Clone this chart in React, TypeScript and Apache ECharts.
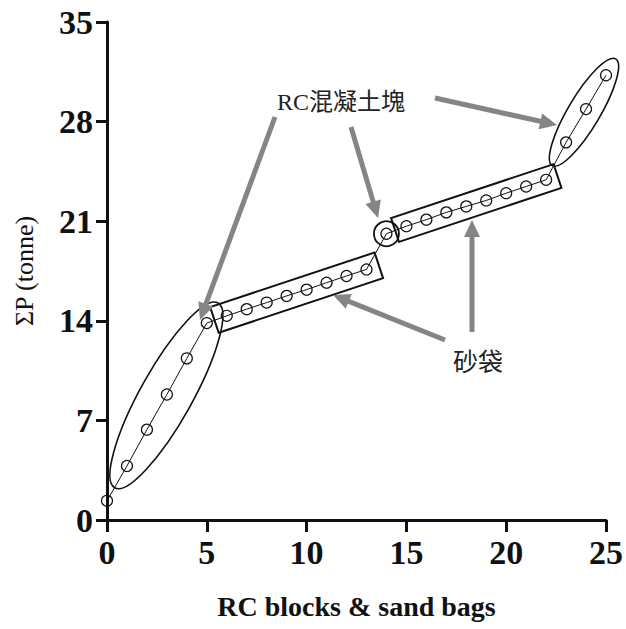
import React, { useEffect, useRef } from "react";
import * as echarts from "echarts";

const xValues = [0, 1, 2, 3, 4, 5, 6, 7, 8, 9, 10, 11, 12, 13, 14, 15, 16, 17, 18, 19, 20, 21, 22, 23, 24, 25];
const yValues = [1.35, 3.8, 6.35, 8.82, 11.36, 13.84, 14.35, 14.82, 15.28, 15.75, 16.19, 16.68, 17.15, 17.61, 20.12, 20.65, 21.11, 21.62, 22.04, 22.46, 22.97, 23.44, 23.91, 26.54, 28.88, 31.26];
const xTicks = [0, 5, 10, 15, 20, 25];
const yTicks = [0, 7, 14, 21, 28, 35];
const xTitle = "RC blocks & sand bags";
const yTitle = "ΣP (tonne)";
const labelBlocks = "RC混凝土塊";
const labelBags = "砂袋";

// groups of point indices that are annotated
const blockGroupA = [1, 5];
const bagGroupA = [6, 13];
const blockSingle = 14;
const bagGroupB = [15, 22];
const blockGroupB = [23, 25];

const SERIF = "'Liberation Serif', 'Times New Roman', serif";
const CJK = "'Liberation Serif', 'Noto Sans CJK TC', serif";

export default function App() {
  const ref = useRef<HTMLDivElement>(null);
  useEffect(() => {
    if (!ref.current) return;
    const chart = echarts.init(ref.current, null, { renderer: "svg" });
    const data = xValues.map((x, i) => [x, yValues[i]]);
    chart.setOption({
      animation: false,
      backgroundColor: "#ffffff",
      grid: { left: 107, right: 18, top: 22, bottom: 109, containLabel: false },
      xAxis: {
        type: "value",
        min: xTicks[0],
        max: xTicks[xTicks.length - 1],
        interval: 5,
        name: xTitle,
        nameLocation: "middle",
        nameGap: 72,
        nameTextStyle: { fontFamily: SERIF, fontWeight: "bold", fontSize: 28, color: "#111" },
        axisLine: { lineStyle: { color: "#111", width: 3 } },
        axisTick: { show: true, length: 12, lineStyle: { color: "#111", width: 3 } },
        axisLabel: { fontFamily: SERIF, fontWeight: "bold", fontSize: 34, color: "#111", margin: 15 },
        splitLine: { show: false },
      },
      yAxis: {
        type: "value",
        min: yTicks[0],
        max: yTicks[yTicks.length - 1],
        interval: 7,
        name: yTitle,
        nameLocation: "middle",
        nameRotate: 90,
        nameGap: 70,
        nameTextStyle: { fontFamily: SERIF, fontSize: 26, color: "#111" },
        axisLine: { lineStyle: { color: "#111", width: 3 } },
        axisTick: { show: true, length: 11, lineStyle: { color: "#111", width: 3 } },
        axisLabel: { fontFamily: SERIF, fontWeight: "bold", fontSize: 34, color: "#111", margin: 14 },
        splitLine: { show: false },
      },
      series: [
        {
          type: "line",
          data,
          symbol: "circle",
          symbolSize: 11,
          lineStyle: { color: "#111", width: 1 },
          itemStyle: { color: "rgba(255,255,255,0)", borderColor: "#111", borderWidth: 1.2 },
          z: 3,
        },
      ],
    });

    const px = (i: number) => chart.convertToPixel({ gridIndex: 0 }, [xValues[i], yValues[i]]) as number[];

    const ellipseAround = (i0: number, i1: number, pad: number, ry: number, shift: number) => {
      const a = px(i0), b = px(i1);
      const dx = b[0] - a[0], dy = b[1] - a[1];
      const len = Math.hypot(dx, dy);
      const ux = dx / len, uy = dy / len;
      const cx = (a[0] + b[0]) / 2 + ux * shift;
      const cy = (a[1] + b[1]) / 2 + uy * shift;
      return {
        type: "ellipse",
        x: cx,
        y: cy,
        rotation: Math.atan2(-dy, dx),
        shape: { cx: 0, cy: 0, rx: len / 2 + pad, ry },
        style: { fill: "none", stroke: "#111", lineWidth: 1.6 },
        z: 10,
      };
    };

    const rectAround = (i0: number, i1: number, pad: number, h: number) => {
      const a = px(i0), b = px(i1);
      const dx = b[0] - a[0], dy = b[1] - a[1];
      const len = Math.hypot(dx, dy);
      const ux = dx / len, uy = dy / len;
      const nx = -uy, ny = ux;
      const s = [a[0] - ux * pad, a[1] - uy * pad];
      const e = [b[0] + ux * pad, b[1] + uy * pad];
      const hh = h / 2;
      return {
        type: "polygon",
        shape: {
          points: [
            [s[0] + nx * hh, s[1] + ny * hh],
            [e[0] + nx * hh, e[1] + ny * hh],
            [e[0] - nx * hh, e[1] - ny * hh],
            [s[0] - nx * hh, s[1] - ny * hh],
          ],
        },
        style: { fill: "none", stroke: "#111", lineWidth: 2 },
        z: 10,
      };
    };

    const arrow = (x1: number, y1: number, x2: number, y2: number) => {
      const dx = x2 - x1, dy = y2 - y1;
      const len = Math.hypot(dx, dy);
      const ux = dx / len, uy = dy / len;
      const nx = -uy, ny = ux;
      const L = 17, W = 8;
      const bx = x2 - ux * L, by = y2 - uy * L;
      const color = "#858585";
      return [
        {
          type: "line",
          shape: { x1, y1, x2: bx + ux * 2, y2: by + uy * 2 },
          style: { stroke: color, lineWidth: 5 },
          z: 12,
        },
        {
          type: "polygon",
          shape: { points: [[x2, y2], [bx + nx * W, by + ny * W], [bx - nx * W, by - ny * W]] },
          style: { fill: color },
          z: 12,
        },
      ];
    };

    const c14 = px(blockSingle);
    const graphic: any[] = [
      ellipseAround(blockGroupA[0], blockGroupA[1], 24, 26, -1),
      rectAround(bagGroupA[0], bagGroupA[1], 13, 27),
      { type: "circle", shape: { cx: c14[0], cy: c14[1], r: 12.5 }, style: { fill: "none", stroke: "#111", lineWidth: 1.8 }, z: 10 },
      rectAround(bagGroupB[0], bagGroupB[1], 12, 25),
      ellipseAround(blockGroupB[0], blockGroupB[1], 23, 16, -4),
      ...arrow(275, 117, 200, 320),
      ...arrow(351, 127, 378, 218),
      ...arrow(435, 98, 557, 125),
      ...arrow(445, 340, 333, 295),
      ...arrow(472, 332, 472, 220),
      {
        type: "text",
        x: 277,
        y: 102,
        style: { text: labelBlocks, font: `24px ${CJK}`, fill: "#222", textVerticalAlign: "middle", verticalAlign: "middle" },
        z: 12,
      },
      {
        type: "text",
        x: 453,
        y: 362,
        style: { text: labelBags, font: `25px ${CJK}`, fill: "#222", textVerticalAlign: "middle", verticalAlign: "middle" },
        z: 12,
      },
    ];
    chart.setOption({ graphic });
    return () => chart.dispose();
  }, []);
  return <div ref={ref} style={{ position: "absolute", left: 0, top: 0, width: 626, height: 629 }} />;
}
